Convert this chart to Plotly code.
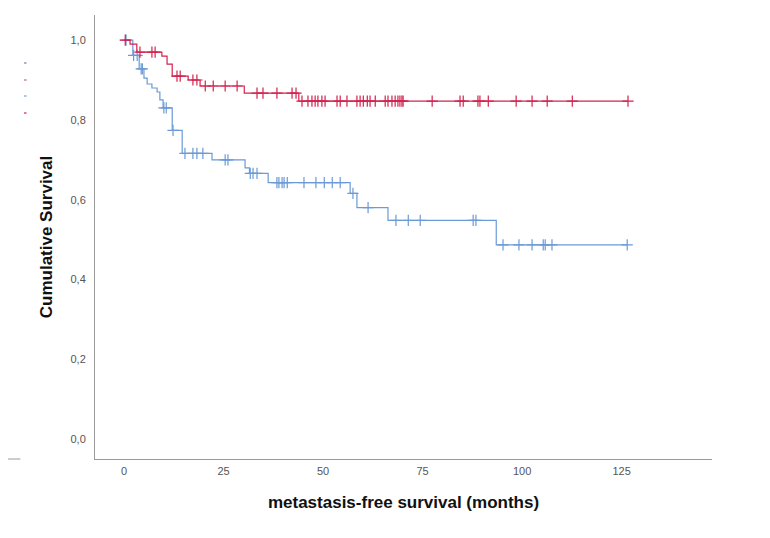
import plotly.graph_objects as go
import bisect

# ---- data ----
blue_event_t = [0, 2.2, 3.8, 5.0, 5.8, 7.0, 8.3, 9.0, 9.8, 12.1, 14.6, 22.1, 30.4, 31.5, 36.2, 56.8, 58.5, 66.3, 93.5]
blue_surv    = [1.0, 0.962, 0.928, 0.905, 0.89, 0.88, 0.87, 0.85, 0.83, 0.774, 0.716, 0.70, 0.68, 0.666, 0.643, 0.616, 0.58, 0.548, 0.487]
blue_end = 126.4
blue_censor_t = [0.5, 2.4, 3.3, 4.3, 4.6, 10.0, 10.6, 12.3, 15.3, 17.3, 18.3, 19.8, 25.4, 26.1,
                 31.7, 32.4, 33.4, 38.4, 38.9, 39.7, 40.2, 41.0, 45.2, 48.2, 50.3, 52.3, 54.3,
                 57.5, 61.3, 68.3, 71.4, 74.4, 87.7, 88.4,
                 95.2, 99.2, 102.5, 105.3, 105.8, 107.5, 126.4]

red_event_t = [0, 1.5, 3.2, 9.5, 10.8, 12.1, 16.1, 19.1, 30.2, 43.9]
red_surv    = [1.0, 0.99, 0.97, 0.96, 0.94, 0.91, 0.90, 0.885, 0.867, 0.847]
red_end = 126.6
red_censor_t = [0.3, 4.0, 7.0, 7.8, 13.3, 14.1, 17.3, 18.3, 20.4, 22.4, 25.4, 28.4,
                33.4, 34.9, 38.4, 42.2, 43.2,
                44.7, 46.2, 47.2, 48.0, 48.7, 49.7, 50.5, 53.5, 54.3, 56.0, 58.5, 59.3, 60.1,
                61.1, 61.8, 63.1, 65.6, 66.3, 67.3, 68.1, 68.8, 69.3, 69.8, 70.1, 77.4,
                84.4, 85.2, 88.9, 89.4, 91.5, 98.5, 102.5, 106.3, 112.6, 126.6]

x_ticks = [0, 25, 50, 75, 100, 125]
y_ticks = [0.0, 0.2, 0.4, 0.6, 0.8, 1.0]

BLUE = "#6b9ad6"
RED = "#d2234f"


def surv_at(t, times, surv):
    i = bisect.bisect_right(times, t) - 1
    return surv[max(i, 0)]


fig = go.Figure()

for times, surv, end, cens, col in [
    (blue_event_t, blue_surv, blue_end, blue_censor_t, BLUE),
    (red_event_t, red_surv, red_end, red_censor_t, RED),
]:
    xs = list(times) + [end]
    ys = list(surv) + [surv[-1]]
    fig.add_trace(go.Scatter(x=xs, y=ys, mode="lines", line=dict(shape="hv", color=col, width=1.2),
                             hoverinfo="skip", showlegend=False))
    fig.add_trace(go.Scatter(x=cens, y=[surv_at(t, times, surv) for t in cens], mode="markers",
                             marker=dict(symbol="cross-thin", size=8, color=col,
                                         line=dict(width=1.2, color=col)),
                             showlegend=False))

# cropped legend remnants on the left edge
shapes = [dict(type="line", xref="paper", yref="paper", x0=-0.141, x1=-0.121, y0=0, y1=0,
               line=dict(color="#9a9a9a", width=1))]
for ypx, c in [(62, "#8a9ab8"), (79, "#d08090"), (95, "#8fb0d8"), (112, "#d05070")]:
    yp = (458 - ypx) / 444
    shapes.append(dict(type="line", xref="paper", yref="paper", x0=-0.115, x1=-0.111, y0=yp, y1=yp,
                       line=dict(color=c, width=1.5)))

fig.update_layout(
    width=770, height=538,
    margin=dict(l=87, r=66, t=7, b=87),
    paper_bgcolor="white", plot_bgcolor="white",
    separators=",.",
    shapes=shapes,
    xaxis=dict(range=[-7.3, 147.7], tickvals=x_ticks, showgrid=False, zeroline=False,
               showline=True, linecolor="#9a9a9a", linewidth=1, ticks="outside", ticklen=2,
               tickcolor="rgba(0,0,0,0)",
               tickfont=dict(family="Liberation Sans Narrow, Liberation Sans, Arial", size=11, color="#555555"),
               title=dict(text="<b>metastasis-free survival (months)</b>", standoff=19,
                          font=dict(family="Liberation Sans, Arial", size=17, color="#111111"))),
    yaxis=dict(range=[-0.05, 1.063], tickvals=y_ticks, tickformat=".1f", showgrid=False, zeroline=False,
               showline=True, linecolor="#9a9a9a", linewidth=1, ticks="outside", ticklen=6,
               tickcolor="rgba(0,0,0,0)",
               tickfont=dict(family="Liberation Sans Narrow, Liberation Sans, Arial", size=11, color="#555555"),
               title=dict(text="<b>Cumulative Survival</b>", standoff=13,
                          font=dict(family="Liberation Sans, Arial", size=17, color="#111111"))),
)

fig.write_html("out.html")
